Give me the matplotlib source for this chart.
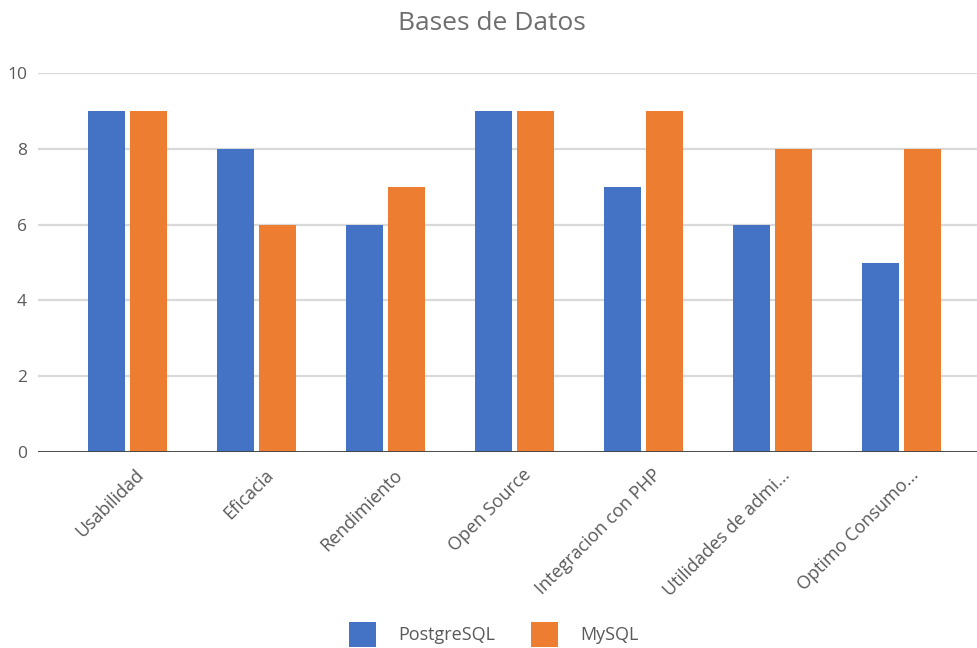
import matplotlib
matplotlib.use("Agg")
import matplotlib.pyplot as plt
import matplotlib.transforms as mtransforms
import numpy as np

categorias = ["Usabilidad", "Eficacia", "Rendimiento", "Open Source",
              "Integracion con PHP", "Utilidades de admi...", "Optimo Consumo..."]
postgresql = [9, 8, 6, 9, 7, 6, 5]
mysql = [9, 6, 7, 9, 9, 8, 8]

plt.rcParams['font.family'] = ['Open Sans', 'DejaVu Sans']

fig = plt.figure(figsize=(9.78, 6.48), dpi=100)
ax = fig.add_axes([0.0389, 0.3025, 0.9611, 0.5845])

x = np.arange(len(categorias))
w = 0.287
off = 0.163
ax.bar(x - off, postgresql, w, color='#4472C4', label='PostgreSQL', zorder=3)
ax.bar(x + off, mysql, w, color='#ED7D31', label='MySQL', zorder=3)

ax.set_xlim(-0.69, 6.59)
ax.set_ylim(0, 10)
ax.set_yticks([0, 2, 4, 6, 8, 10])
ax.grid(axis='y', color='#d9d9d9', linewidth=1.6, zorder=0)
ax.axhline(0, color='#404040', linewidth=2, zorder=4)
for s in ax.spines.values():
    s.set_visible(False)
ax.tick_params(axis='both', length=0, labelsize=12.5, colors='#595959')
ax.tick_params(axis='y', pad=8)

ax.set_xticks(x)
ax.set_xticklabels(categorias, rotation=45, ha='right', rotation_mode='anchor',
                   fontsize=13, color='#595959')
ax.tick_params(axis='x', pad=10)
# shift labels a bit right like the original
shift = mtransforms.ScaledTranslation(8 / 100, 0, fig.dpi_scale_trans)
for lbl in ax.get_xticklabels():
    lbl.set_transform(lbl.get_transform() + shift)

fig.text(0.503, 0.963, 'Bases de Datos', ha='center', va='center',
         fontsize=19, color='#6e6e6e')

leg = fig.legend(loc='center', bbox_to_anchor=(0.505, 0.021), ncol=2, frameon=False,
                 fontsize=13, handlelength=1.5, handleheight=1.7, columnspacing=2.0,
                 handletextpad=1.2)
for t in leg.get_texts():
    t.set_color('#595959')

fig.savefig('out.png', dpi=100)
